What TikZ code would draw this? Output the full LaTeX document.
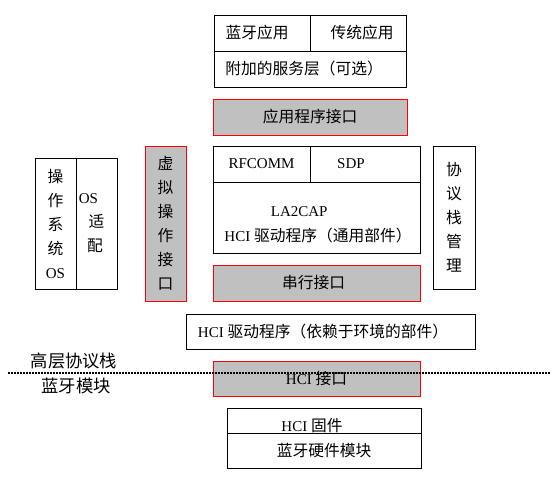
\documentclass[tikz,border=0pt]{standalone}
\usepackage{fontspec}
\setmainfont{Liberation Serif}
\newfontfamily\cjk[Scale=1.05]{Noto Sans CJK SC}
\usepackage{tikz}
\definecolor{bt-grey}{HTML}{C0C0C0}
\definecolor{bt-red}{HTML}{FF0000}

\tikzset{
    cell/.style={draw, line width=0.9pt, inner sep=0pt, font=\fontsize{15}{18}\selectfont},
    iface/.style={cell, draw=bt-red, fill=bt-grey},
    column/.style={align=center, font=\cjk\fontsize{15}{24}\selectfont},
    side-label/.style={inner sep=0pt, font=\cjk\fontsize{16.5}{20}\selectfont}
}

\begin{document}
\begin{tikzpicture}[x=1pt, y=-1pt]
    \useasboundingbox (0,0) rectangle (555,478);

    % Applications on top
    \node[cell, minimum width=96pt, minimum height=36pt] (btapp) at (262,33) {{\cjk 蓝牙应用}\hspace*{10pt}};
    \node[cell, minimum width=96pt, minimum height=36pt] (oldapp) at (358,33) {\hspace*{8pt}{\cjk 传统应用}};
    \node[cell, minimum width=192pt, minimum height=36pt] (extra) at (310,69) {{\cjk 附加的服务层（可选）}\hspace*{12pt}};

    % Application interface
    \node[iface, minimum width=194pt, minimum height=36pt] (api) at (310,117) {\cjk 应用程序接口};

    % Protocol block
    \node[cell, minimum width=97pt, minimum height=36pt] (rfcomm) at (261.5,164) {RFCOMM};
    \node[cell, minimum width=110pt, minimum height=36pt] (sdp) at (365,164) {SDP\hspace*{28pt}};
    \node[cell, minimum width=207pt, minimum height=71pt] (l2cap) at (316.5,217.5) {};
    \node[inner sep=0pt, align=center, font=\fontsize{15}{25}\selectfont] (l2txt) at (318,225)
        {LA2CAP\hspace*{2.5em}\\HCI {\cjk 驱动程序（通用部件）}};

    % Serial interface
    \node[iface, minimum width=207pt, minimum height=36pt] (serial) at (316.5,283) {\cjk 串行接口\hspace*{6pt}};

    % Operating system, left side
    \node[cell, column, minimum width=41pt, minimum height=131pt] (osleft) at (55.5,223.5)
        {操\\作\\系\\统\\{\rmfamily OS}};
    \node[cell, column, minimum width=41pt, minimum height=131pt] (osright) at (96.5,223.5)
        {{\rmfamily OS}\hspace*{16pt}\\适\hspace*{3pt}\\配\hspace*{3pt}};
    \node[iface, column, minimum width=41pt, minimum height=155pt] (virt) at (165.5,223.5)
        {虚\\拟\\操\\作\\接\\口};

    % Stack management, right side
    \node[cell, column, minimum width=42pt, minimum height=143pt] (mgmt) at (454,217.5)
        {协\\议\\栈\\管\\理};

    % HCI driver and HCI interface
    \node[cell, minimum width=289pt, minimum height=35pt] (hcidrv) at (330.5,331.5)
        {HCI {\cjk 驱动程序（依赖于环境的部件）}\hspace*{1em}};
    \node[iface, minimum width=207pt, minimum height=35pt] (hciif) at (316.5,378.5) {HCI {\cjk 接口}};

    % Firmware and hardware
    \node[cell, minimum width=194pt, minimum height=25pt] (fwtop) at (324,420.5) {};
    \node[inner sep=0pt, font=\fontsize{15}{18}\selectfont] (fwtxt) at (312,426) {HCI {\cjk 固件}};
    \node[cell, minimum width=194pt, minimum height=35pt] (fwbot) at (324,450.5) {\cjk 蓝牙硬件模块};

    % Dividing line between host stack and module
    \coordinate (divl) at (8,373);
    \coordinate (divr) at (550,373);
    \draw[line width=1.6pt, dash pattern=on 2pt off 1pt] (divl) -- (divr);

    % Side labels
    \node[side-label] (hostlbl) at (74,361) {高层协议栈};
    \node[side-label] (modlbl) at (76,386) {蓝牙模块};
\end{tikzpicture}
\end{document}
